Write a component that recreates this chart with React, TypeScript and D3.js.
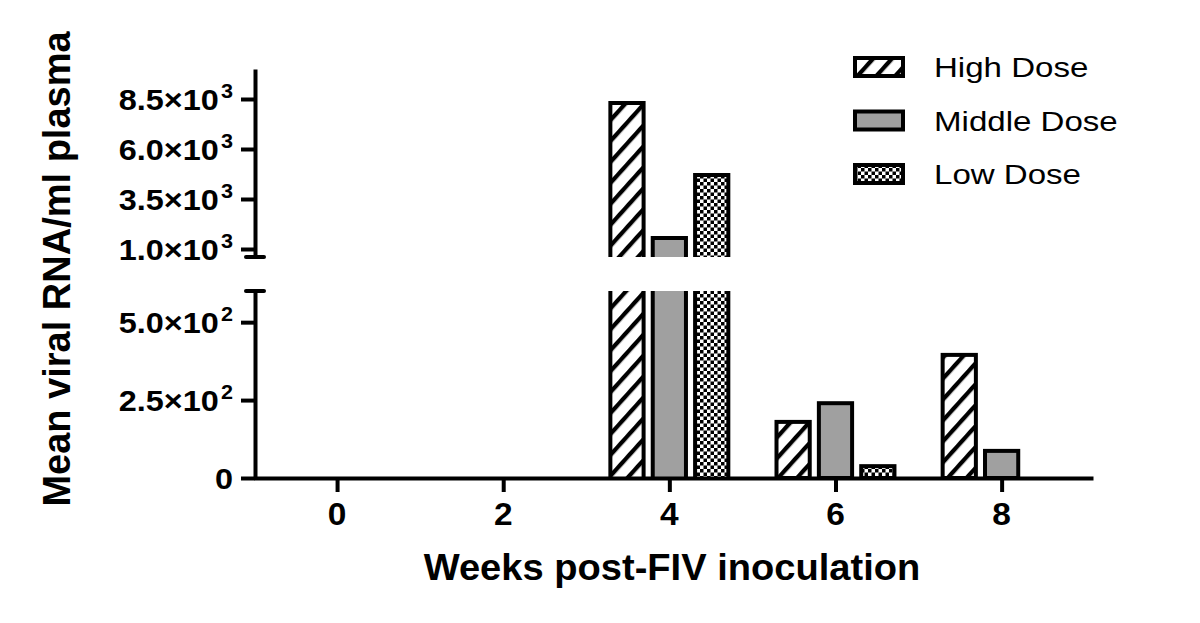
import * as d3 from "d3";
import { useEffect, useRef } from "react";

// ---- data ----
const weeks = [0, 2, 4, 6, 8];
const seriesNames = ["High Dose", "Middle Dose", "Low Dose"];
const highDose = [0, 0, 8300, 180, 395];
const middleDose = [0, 0, 1550, 240, 87];
const lowDose = [0, 0, 4700, 38, 0];
const lowerTicks = [0, 250, 500];
const upperTicks = [1000, 3500, 6000, 8500];
const xTicks = [0, 2, 4, 6, 8];

export default function App() {
  const ref = useRef<SVGSVGElement>(null);

  useEffect(() => {
    const width = 1200;
    const height = 623;
    const font = "'Liberation Sans', Arial, Helvetica, sans-serif";
    const breakAt = 600; // axis break value

    const svg = d3.select(ref.current);
    svg.selectAll("*").remove();
    svg.attr("width", width).attr("height", height);

    // ---- patterns ----
    const defs = svg.append("defs");
    const hatch = defs
      .append("pattern")
      .attr("id", "hatch")
      .attr("patternUnits", "userSpaceOnUse")
      .attr("width", 14)
      .attr("height", 14)
      .attr("patternTransform", "rotate(42)");
    hatch.append("rect").attr("width", 14).attr("height", 14).attr("fill", "#fff");
    hatch
      .append("line")
      .attr("x1", 2)
      .attr("y1", -2)
      .attr("x2", 2)
      .attr("y2", 16)
      .attr("stroke", "#000")
      .attr("stroke-width", 4.5);

    const checker = defs
      .append("pattern")
      .attr("id", "checker")
      .attr("patternUnits", "userSpaceOnUse")
      .attr("width", 7)
      .attr("height", 7);
    checker.append("rect").attr("width", 7).attr("height", 7).attr("fill", "#fff");
    checker.append("rect").attr("width", 3.5).attr("height", 3.5).attr("fill", "#000");
    checker
      .append("rect")
      .attr("x", 3.5)
      .attr("y", 3.5)
      .attr("width", 3.5)
      .attr("height", 3.5)
      .attr("fill", "#000");

    const fills = ["url(#hatch)", "#a0a0a0", "url(#checker)"];
    const values = [highDose, middleDose, lowDose];

    // ---- scales ----
    const x = d3.scaleLinear().domain([-1, 9.1]).range([254, 1093]);
    const yLow = d3.scaleLinear().domain([0, breakAt]).range([478, 291]);
    const yHigh = d3.scaleLinear().domain([breakAt, 10000]).range([257, 69]);

    const bw = x(0.4) - x(0);
    const offset = x(0.51) - x(0);

    // ---- bars ----
    const gBars = svg.append("g");
    values.forEach((vals, j) => {
      vals.forEach((v, i) => {
        if (v <= 0) return;
        const cx = x(weeks[i]) + (j - 1) * offset;
        const l = cx - bw / 2;
        const r = cx + bw / 2;
        const bottom = yLow(0);
        if (v <= breakAt) {
          gBars
            .append("rect")
            .attr("x", l)
            .attr("y", yLow(v))
            .attr("width", bw)
            .attr("height", bottom - yLow(v))
            .attr("fill", fills[j])
            .attr("stroke", "#000")
            .attr("stroke-width", 4);
        } else {
          // lower piece
          gBars
            .append("rect")
            .attr("x", l)
            .attr("y", yLow(breakAt))
            .attr("width", bw)
            .attr("height", bottom - yLow(breakAt))
            .attr("fill", fills[j]);
          gBars
            .append("path")
            .attr("d", `M${l},${bottom}V${yLow(breakAt)}M${r},${yLow(breakAt)}V${bottom}`)
            .attr("fill", "none")
            .attr("stroke", "#000")
            .attr("stroke-width", 4);
          // upper piece
          gBars
            .append("rect")
            .attr("x", l)
            .attr("y", yHigh(v))
            .attr("width", bw)
            .attr("height", yHigh(breakAt) - yHigh(v))
            .attr("fill", fills[j]);
          gBars
            .append("path")
            .attr("d", `M${l},${yHigh(breakAt)}V${yHigh(v)}H${r}V${yHigh(breakAt)}`)
            .attr("fill", "none")
            .attr("stroke", "#000")
            .attr("stroke-width", 4)
            .attr("stroke-linejoin", "miter");
        }
      });
    });

    // ---- axes ----
    const styleAxis = (g: any) => {
      g.selectAll("path.domain").attr("stroke", "#000").attr("stroke-width", 4);
      g.selectAll(".tick line").attr("stroke", "#000").attr("stroke-width", 4);
      g.selectAll(".tick text").remove();
    };

    svg
      .append("g")
      .attr("transform", `translate(0,${yLow(0)})`)
      .call(d3.axisBottom(x).tickValues(xTicks).tickSize(14).tickSizeOuter(0))
      .call(styleAxis);

    const axisX = x(-1) + 1;
    svg
      .append("g")
      .attr("transform", `translate(${axisX},0)`)
      .call(d3.axisLeft(yLow).tickValues(lowerTicks).tickSize(14).tickSizeOuter(0))
      .call(styleAxis);
    svg
      .append("g")
      .attr("transform", `translate(${axisX},0)`)
      .call(d3.axisLeft(yHigh).tickValues(upperTicks).tickSize(14).tickSizeOuter(0))
      .call(styleAxis);

    // break caps
    [yHigh(breakAt), yLow(breakAt)].forEach((yy) => {
      svg
        .append("line")
        .attr("x1", axisX - 9)
        .attr("x2", axisX + 9)
        .attr("y1", yy)
        .attr("y2", yy)
        .attr("stroke", "#000")
        .attr("stroke-width", 4)
        .attr("stroke-linecap", "round");
    });

    // ---- tick labels ----
    const sx = 1.08;
    const yLabel = (v: number, yy: number) => {
      const t = svg
        .append("text")
        .attr("transform", `translate(${axisX - 22},${yy}) scale(${sx},1)`)
        .attr("text-anchor", "end")
        .attr("dy", "0.36em")
        .attr("font-family", font)
        .attr("font-weight", 700)
        .attr("font-size", 30)
        .attr("fill", "#000");
      if (v === 0) {
        t.text("0");
        return;
      }
      const e = Math.floor(Math.log10(v));
      const m = (v / Math.pow(10, e)).toFixed(1);
      t.append("tspan").text(`${m}×10`);
      t.append("tspan")
        .attr("font-size", 20)
        .attr("dx", 2)
        .attr("dy", -12)
        .text(String(e));
    };
    lowerTicks.forEach((v) => yLabel(v, yLow(v)));
    upperTicks.forEach((v) => yLabel(v, yHigh(v)));

    xTicks.forEach((v) => {
      svg
        .append("text")
        .attr("transform", `translate(${x(v)},525) scale(${sx},1)`)
        .attr("text-anchor", "middle")
        .attr("font-family", font)
        .attr("font-weight", 700)
        .attr("font-size", 31)
        .attr("fill", "#000")
        .text(String(v));
    });

    // ---- axis titles ----
    svg
      .append("text")
      .attr("transform", `translate(672,580) scale(1.03,1)`)
      .attr("text-anchor", "middle")
      .attr("font-family", font)
      .attr("font-weight", 700)
      .attr("font-size", 37)
      .text("Weeks post-FIV inoculation");

    svg
      .append("text")
      .attr("transform", `translate(70,269) rotate(-90)`)
      .attr("text-anchor", "middle")
      .attr("font-family", font)
      .attr("font-weight", 700)
      .attr("font-size", 38)
      .text("Mean viral RNA/ml plasma");

    // ---- legend ----
    const legend = svg.append("g");
    seriesNames.forEach((name, j) => {
      const cy = 67 + j * 53.5;
      legend
        .append("rect")
        .attr("x", 855)
        .attr("y", cy - 9)
        .attr("width", 48)
        .attr("height", 18)
        .attr("fill", fills[j])
        .attr("stroke", "#000")
        .attr("stroke-width", 4);
      legend
        .append("text")
        .attr("transform", `translate(934,${cy + 10}) scale(1.16,1)`)
        .attr("font-family", font)
        .attr("font-size", 28.5)
        .attr("fill", "#000")
        .text(name);
    });
  }, []);

  return (
    <svg
      ref={ref}
      style={{ position: "absolute", left: 0, top: 0, background: "#fff" }}
    />
  );
}
